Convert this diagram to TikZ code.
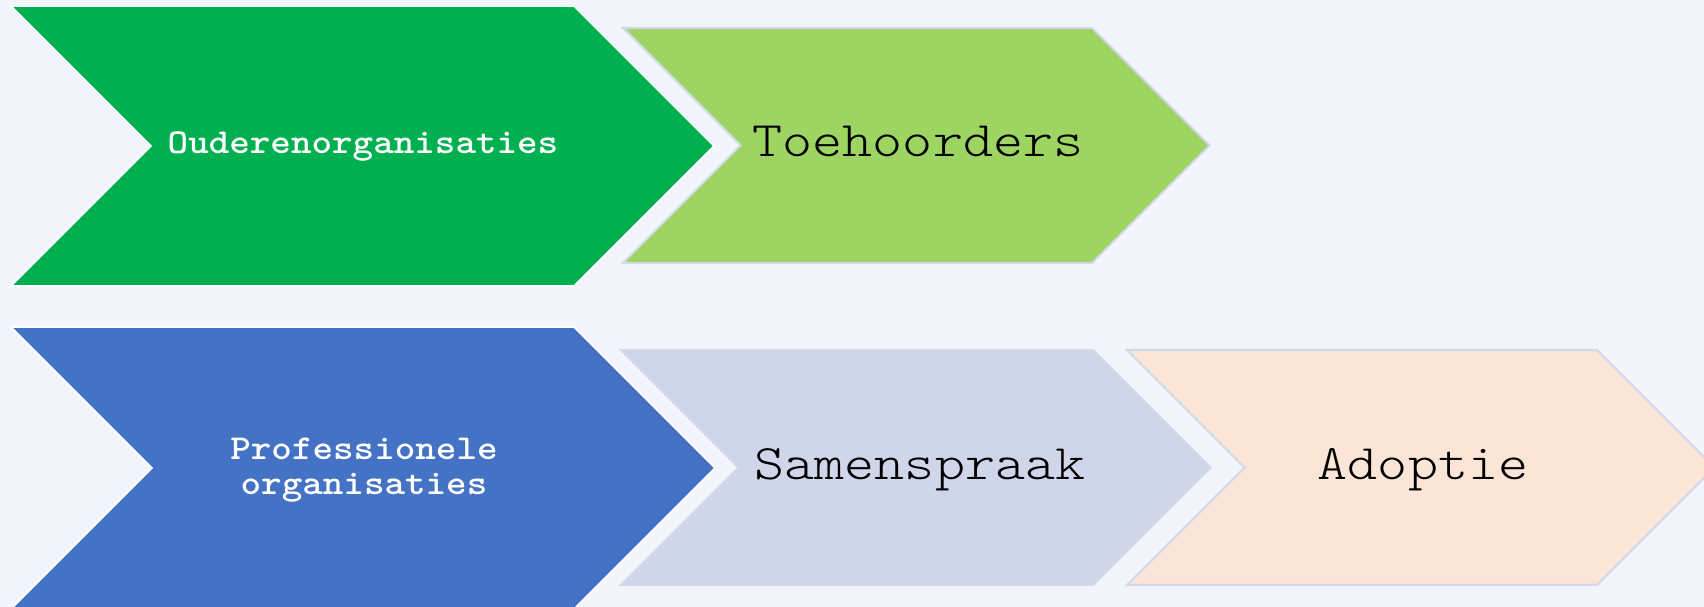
\documentclass[tikz,border=0pt]{standalone}
\usepackage{fontspec}
\newfontfamily\chevfont[FakeStretch=1.15]{lmmonolt10-regular.otf}
\newfontfamily\chevboldfont[FakeStretch=1.12]{lmmonolt10-bold.otf}
\definecolor{bgblue}{HTML}{F2F5FC}
\definecolor{darkgreen}{HTML}{00B050}
\definecolor{lightgreen}{HTML}{9DD462}
\definecolor{midblue}{HTML}{4472C4}
\definecolor{lavender}{HTML}{D0D6EA}
\definecolor{peach}{HTML}{FAE5D6}
\definecolor{chevline}{HTML}{D3D8EA}

\begin{document}
\begin{tikzpicture}[x=0.02cm,y=-0.02cm,
    darkchev/.style={fill=#1,draw=white,line width=1pt},
    lightchev/.style={fill=#1,draw=chevline,line width=1.2pt},
    boldlabel/.style={text=white,align=center,
      font=\chevboldfont\fontsize{19.9}{19.9}\selectfont},
    plainlabel/.style={text=black,anchor=base,inner sep=0pt,
      font=\chevfont\fontsize{28.3}{30}\selectfont}]
      \useasboundingbox (0,0) rectangle (1704,607);
      \fill[bgblue] (0,0) rectangle (1704,607);
      % top row
      \filldraw[darkchev=darkgreen] (11,6) -- (574,6) -- (714,146) -- (574,286) -- (11,286) -- (151,146) -- cycle;
      \filldraw[lightchev=lightgreen] (623,28) -- (1092,28) -- (1209.5,145.5) -- (1092,263) -- (623,263) -- (740.5,145.5) -- cycle;
      \node[boldlabel,anchor=base,inner sep=0pt] (ouderen) at (363,154) {Ouderenorganisaties};
      \node[plainlabel] (toehoorders) at (918,157) {Toehoorders};
      % bottom row
      \filldraw[darkchev=midblue] (11,327) -- (574,327) -- (715,468) -- (574,609) -- (11,609) -- (152,468) -- cycle;
      \filldraw[lightchev=lavender] (621,350) -- (1093,350) -- (1210.5,467.5) -- (1093,585) -- (621,585) -- (738.5,467.5) -- cycle;
      \filldraw[lightchev=peach] (1127,350) -- (1597,350) -- (1714.5,467.5) -- (1597,585) -- (1127,585) -- (1244.5,467.5) -- cycle;
      \node[boldlabel] (professioneel) at (364,470) {Professionele\\organisaties};
      \node[plainlabel] (samenspraak) at (920,480) {Samenspraak};
      \node[plainlabel] (adoptie) at (1423,480) {Adoptie};
    \end{tikzpicture}
\end{document}
